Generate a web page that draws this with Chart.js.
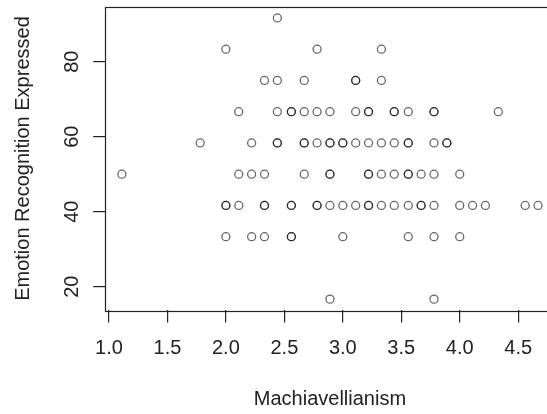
<!DOCTYPE html>
<html lang="en">
<head>
  <meta charset="UTF-8" />
  <title>Machiavellianism vs Emotion Recognition</title>
  <script src="https://cdn.jsdelivr.net/npm/chart.js"></script>
  <style>
    html, body { margin: 0; padding: 0; background: #fff; overflow: hidden; }
    /* the plot region runs a little past the right edge, like the cropped original */
    .wrap { width: 560px; height: 414px; }
  </style>
</head>
<body>
  <div class="wrap"><canvas id="scatter"></canvas></div>

  <script>
    // Emotion Recognition Expressed levels, and the Machiavellianism scores seen at each level
    const emotionLevels = [91.67, 83.33, 75, 66.67, 58.33, 50, 41.67, 33.33, 16.67];
    const mach92 = [2.44];
    const mach83 = [2.00, 2.78, 3.33];
    const mach75 = [2.33, 2.44, 2.67, 3.11, 3.11, 3.33];
    const mach67 = [2.11, 2.44, 2.56, 2.56, 2.67, 2.78, 2.89, 3.11, 3.22, 3.22, 3.44, 3.44, 3.56, 3.78, 3.78, 4.33];
    const mach58 = [1.78, 2.22, 2.44, 2.44, 2.67, 2.67, 2.78, 2.89, 2.89, 3.00, 3.00, 3.11, 3.22, 3.33, 3.44, 3.56, 3.56, 3.78, 3.89, 3.89];
    const mach50 = [1.11, 2.11, 2.22, 2.33, 2.67, 2.89, 2.89, 3.22, 3.22, 3.33, 3.44, 3.56, 3.56, 3.67, 3.78, 4.00];
    const mach42 = [2.00, 2.00, 2.11, 2.33, 2.33, 2.56, 2.56, 2.78, 2.78, 2.89, 3.00, 3.11, 3.22, 3.22, 3.33, 3.44, 3.56, 3.67, 3.67, 3.78, 4.00, 4.11, 4.22, 4.56, 4.67];
    const mach33 = [2.00, 2.22, 2.33, 2.56, 2.56, 3.00, 3.56, 3.78, 4.00];
    const mach17 = [2.89, 3.78];
    const machByLevel = [mach92, mach83, mach75, mach67, mach58, mach50, mach42, mach33, mach17];

    const xTicks = [1.0, 1.5, 2.0, 2.5, 3.0, 3.5, 4.0, 4.5];
    const yTicks = [20, 40, 60, 80];

    const points = [];
    machByLevel.forEach((xs, i) => {
      xs.forEach(x => points.push({ x: x, y: emotionLevels[i] }));
    });

    // R style axis range: data range plus 4% each side
    const allX = points.map(p => p.x), allY = points.map(p => p.y);
    const xPad = (Math.max(...allX) - Math.min(...allX)) * 0.04;
    const yPad = (Math.max(...allY) - Math.min(...allY)) * 0.04;

    const FONT = "'Liberation Sans', Arial, Helvetica, sans-serif";
    const INK = "#222";

    // box round the plot region + vertical y tick labels
    const rBox = {
      id: "rBox",
      afterDraw(chart) {
        const { ctx, chartArea: a } = chart;
        ctx.save();
        ctx.strokeStyle = INK;
        ctx.lineWidth = 1.2;
        ctx.strokeRect(Math.round(a.left) + 0.5, Math.round(a.top) + 0.5,
          Math.round(a.right - a.left), Math.round(a.bottom - a.top));

        const ys = chart.scales.y;
        ctx.fillStyle = INK;
        ctx.font = "20px " + FONT;
        ctx.textAlign = "center";
        ctx.textBaseline = "middle";
        yTicks.forEach(v => {
          ctx.save();
          ctx.translate(ys.right - 33, ys.getPixelForValue(v));
          ctx.rotate(-Math.PI / 2);
          ctx.fillText(String(v), 0, 0);
          ctx.restore();
        });
        ctx.restore();
      }
    };

    new Chart(document.getElementById("scatter"), {
      type: "scatter",
      data: {
        datasets: [{
          data: points,
          pointStyle: "circle",
          pointRadius: 4,
          pointHoverRadius: 4,
          borderWidth: 1.3,
          borderColor: "rgba(0,0,0,0.6)",
          backgroundColor: "rgba(0,0,0,0)"
        }]
      },
      options: {
        responsive: true,
        maintainAspectRatio: false,
        animation: false,
        events: [],
        layout: { padding: { top: 6.7, right: 5, bottom: 0, left: 0 } },
        plugins: { legend: { display: false }, tooltip: { enabled: false } },
        scales: {
          x: {
            type: "linear",
            min: Math.min(...allX) - xPad,
            max: Math.max(...allX) + xPad,
            afterBuildTicks: s => { s.ticks = xTicks.map(v => ({ value: v })); },
            afterFit: s => { s.height = 103.6; },
            border: { display: false },
            grid: { drawOnChartArea: false, drawTicks: true, tickLength: 12, color: INK, lineWidth: 1.2 },
            ticks: {
              color: INK, font: { family: FONT, size: 20 }, padding: 13.8,
              maxRotation: 0, autoSkip: false,
              callback: v => Number(v).toFixed(1)
            },
            title: {
              display: true, text: "Machiavellianism", color: INK,
              font: { family: FONT, size: 20 }, padding: { top: 0, bottom: 3 }
            }
          },
          y: {
            type: "linear",
            min: Math.min(...allY) - yPad,
            max: Math.max(...allY) + yPad,
            afterBuildTicks: s => { s.ticks = yTicks.map(v => ({ value: v })); },
            afterFit: s => { s.width = 105.2; },
            border: { display: false },
            grid: { drawOnChartArea: false, drawTicks: true, tickLength: 12, color: INK, lineWidth: 1.2 },
            ticks: { display: false },
            title: {
              display: true, text: "Emotion Recognition Expressed", color: INK,
              font: { family: FONT, size: 20 }, padding: { top: 11, bottom: 0 }
            }
          }
        }
      },
      plugins: [rBox]
    });
  </script>
</body>
</html>
